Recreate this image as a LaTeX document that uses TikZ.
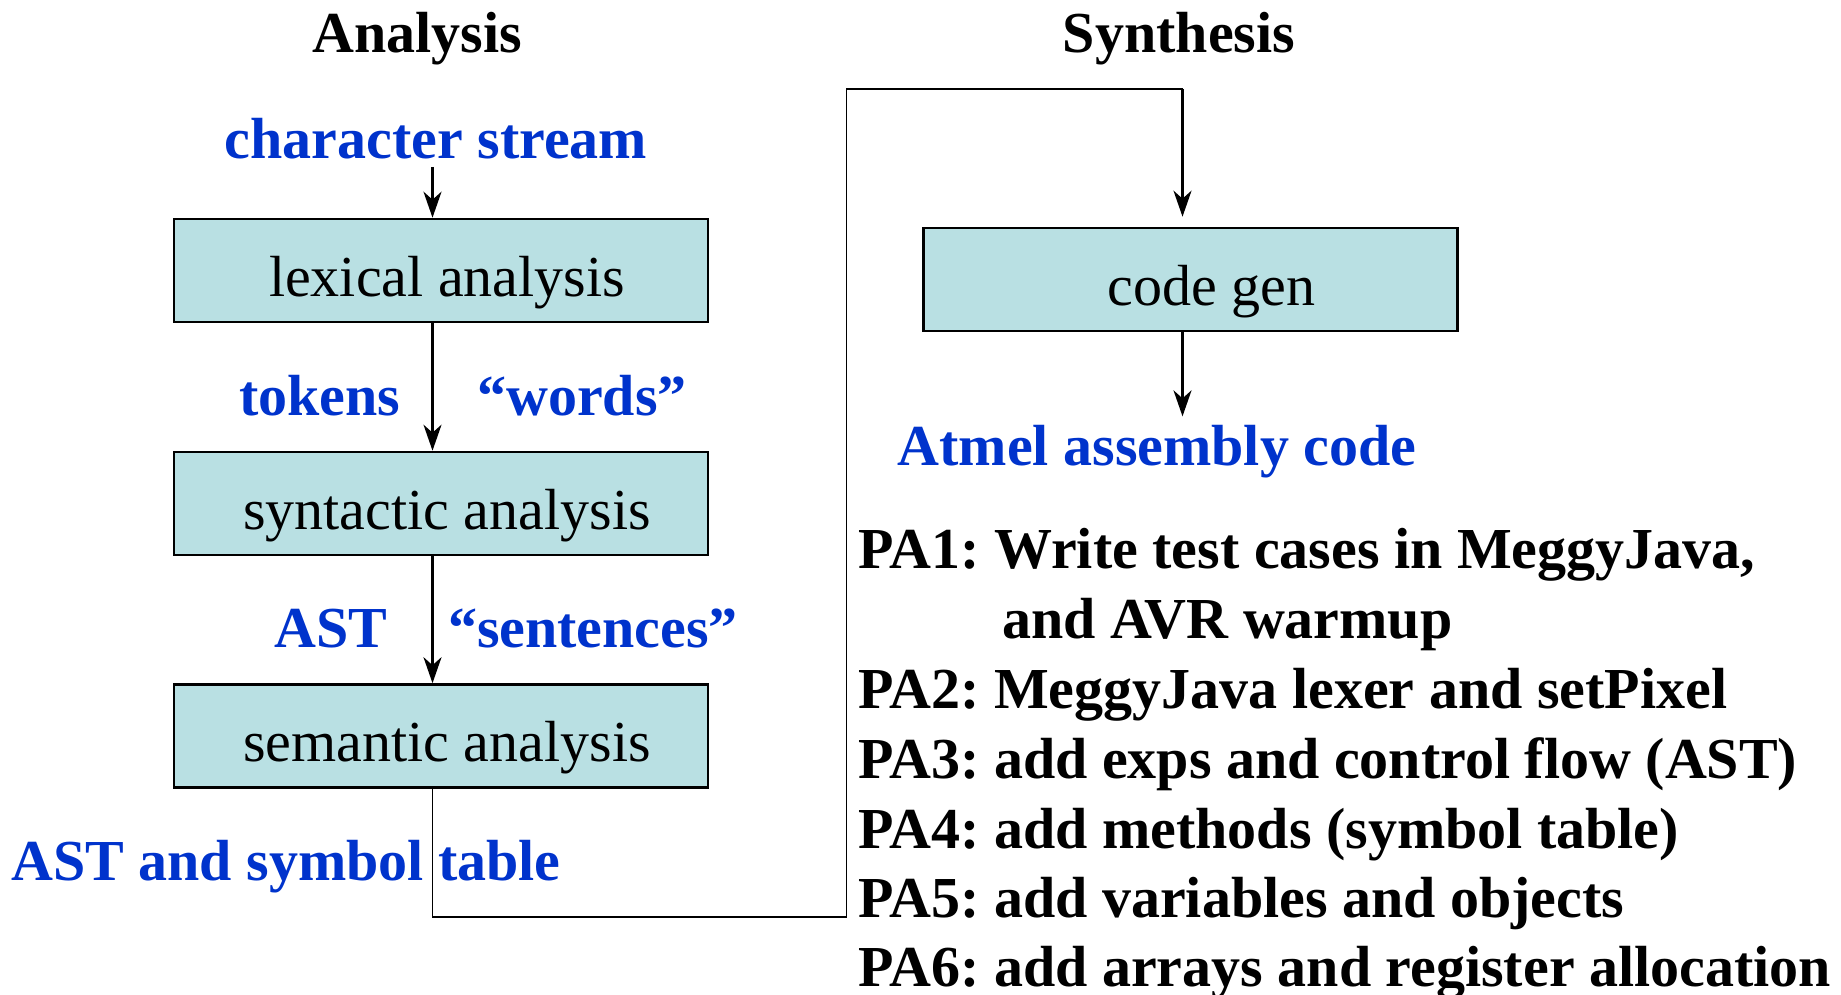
\documentclass[tikz,border=0pt]{standalone}
\usepackage{fontspec}
\setmainfont{Liberation Serif}
\usepackage{xcolor}
\usetikzlibrary{arrows.meta}
\definecolor{phasecyan}{RGB}{185,224,227}
\definecolor{flowblue}{RGB}{0,51,204}
\frenchspacing

\begin{document}
\begin{tikzpicture}[x=0.5pt, y=-0.5pt,
    phase/.style={rectangle, draw, line width=1.3pt, fill=phasecyan, minimum width=267pt, minimum height=51.5pt, text height=28pt, text depth=2.5pt, font=\fontsize{29pt}{34pt}\selectfont, execute at begin node=\hspace*{6pt}},
    heading/.style={anchor=base, inner sep=0pt, font=\fontsize{29pt}{34pt}\selectfont\bfseries},
    flow/.style={anchor=base, inner sep=4pt, text=flowblue, font=\fontsize{29pt}{34pt}\selectfont\bfseries},
    task/.style={anchor=base west, inner sep=0pt, font=\fontsize{29pt}{34pt}\selectfont\bfseries},
    arrow/.style={line width=1.3pt,->,>={Stealth[length=13pt,width=9pt,inset=4pt]}},
    wire/.style={line width=0.9pt}
]
\useasboundingbox (0,0) rectangle (1841,995);

% column titles
\node[heading] (analysis) at (417,53) {Analysis};
\node[heading] (synthesis) at (1179,53) {Synthesis};

% front end
\node[flow] (chars) at (436,158) {character stream};
\node[phase] (lex) at (441,270.5) {lexical analysis};
\node[flow] (tokens) at (320,415) {tokens};
\node[flow] (words) at (582,415) {“words”};
\node[phase] (syn) at (441,503.5) {syntactic analysis};
\node[flow] (ast) at (331,647) {AST};
\node[flow] (sentences) at (593,647) {“sentences”};
\node[phase] (sem) at (441,736) {semantic analysis};
\node[flow] (asttable) at (286,880) {AST and symbol table};

% back end
\node[phase, execute at begin node=\hspace*{15pt}] (gen) at (1190.5,279.5) {code gen};
\node[flow] (atmel) at (1157,465) {Atmel assembly code};

% assignments
\node[task] (pa1) at (858,568) {PA1: Write test cases in MeggyJava,};
\node[task] (pa1b) at (1002,638) {and AVR warmup};
\node[task] (pa2) at (858,708) {PA2: MeggyJava lexer and setPixel};
\node[task] (pa3) at (858,778) {PA3: add exps and control flow (AST)};
\node[task] (pa4) at (858,848) {PA4: add methods (symbol table)};
\node[task] (pa5) at (858,917) {PA5: add variables and objects};
\node[task] (pa6) at (858,986) {PA6: add arrays and register allocation};

\coordinate (spine) at (432.5,0);
\coordinate (genspine) at (1182.5,0);
\coordinate (lowturn) at (846.5,917);
\coordinate (highturn) at (846.5,89);

\draw[arrow] (chars.south -| spine) -- (lex.north -| spine);
\draw[arrow] (lex.south -| spine) -- (syn.north -| spine);
\draw[arrow] (syn.south -| spine) -- (sem.north -| spine);
\draw[wire] (sem.south -| spine) |- (lowturn) -- (highturn) -- (highturn -| genspine);
\draw[arrow, shorten >=5pt] (highturn -| genspine) -- (gen.north -| genspine);
\draw[arrow] (gen.south -| genspine) -- (atmel.north -| genspine);

\end{tikzpicture}
\end{document}
